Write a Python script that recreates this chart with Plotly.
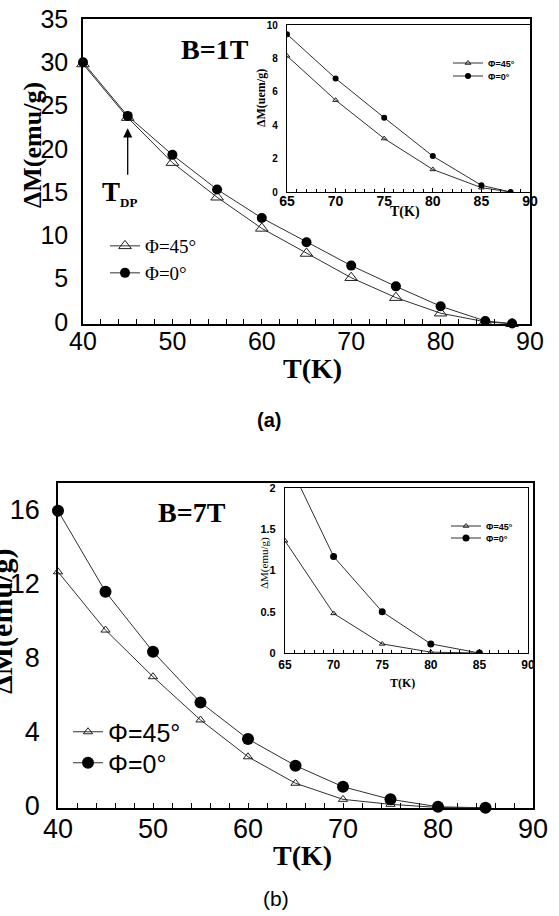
import plotly.graph_objects as go

W, H = 559, 916

# ---------------- data ----------------
# panel (a) main, B = 1 T
T_a = [40, 45, 50, 55, 60, 65, 70, 75, 80, 85, 88]
dM_a_phi45 = [29.8, 23.6, 18.4, 14.4, 10.8, 7.9, 5.1, 2.8, 1.0, 0.0, -0.22]
dM_a_phi0 = [30.0, 23.8, 19.3, 15.3, 12.0, 9.2, 6.5, 4.1, 1.8, 0.1, -0.2]
# panel (a) inset
T_a_in = [65, 70, 75, 80, 85, 88]
dM_a_in_phi45 = [8.15, 5.5, 3.2, 1.35, 0.26, 0.0]
dM_a_in_phi0 = [9.45, 6.8, 4.45, 2.15, 0.4, 0.0]
# panel (b) main, B = 7 T
T_b = [40, 45, 50, 55, 60, 65, 70, 75, 80, 85]
dM_b_phi45 = [12.66, 9.51, 6.99, 4.65, 2.66, 1.23, 0.36, 0.09, -0.08, -0.1]
dM_b_phi0 = [15.96, 11.58, 8.34, 5.6, 3.62, 2.18, 1.04, 0.36, -0.04, -0.1]
# panel (b) inset
T_b_in = [65, 70, 75, 80, 85]
dM_b_in_phi45 = [1.36, 0.48, 0.11, 0.01, 0.0]
dM_b_in_phi0 = [2.4, 1.17, 0.50, 0.11, 0.0]

T_DP = 45
T_DP_dM = 22.36

name45 = "Φ=45°"
name0 = "Φ=0°"

SERIF = "Liberation Serif"
SANS = "Liberation Sans"
LC = "#303030"


def px(x):
    return x / W


def py(y):
    return 1 - y / H


fig = go.Figure()


def add_pair(x, y45, y0, xa, ya, leg45, leg0, s45, s0, lw=1.0, clip=True):
    fig.add_trace(go.Scatter(x=x, y=y45, name=name45, mode="lines+markers",
                             xaxis=xa, yaxis=ya, legend=leg45, cliponaxis=clip,
                             showlegend=True,
                             line=dict(color=LC, width=lw),
                             marker=dict(symbol="triangle-up-open", size=s45,
                                         color="#202020", line=dict(width=1, color="#202020"))))
    fig.add_trace(go.Scatter(x=x, y=y0, name=name0, mode="lines+markers",
                             xaxis=xa, yaxis=ya, legend=leg0, cliponaxis=clip,
                             showlegend=True,
                             line=dict(color=LC, width=lw),
                             marker=dict(symbol="circle", size=s0, color="black")))


add_pair(T_a, dM_a_phi45, dM_a_phi0, "x", "y", "legend", "legend2", 11, 10, clip=False)
add_pair(T_a_in, dM_a_in_phi45, dM_a_in_phi0, "x2", "y2", "legend3", "legend4", 5, 6)
add_pair(T_b, dM_b_phi45, dM_b_phi0, "x3", "y3", "legend5", "legend6", 8, 12, clip=False)
add_pair(T_b_in, dM_b_in_phi45, dM_b_in_phi0, "x4", "y4", "legend7", "legend8", 5, 7)

ax_common = dict(showgrid=False, zeroline=False, showline=True, linecolor="black",
                 mirror=True, tickcolor="black", ticklen=5, tickwidth=1, automargin=False)


def leg(x, y, size, family, bold=False):
    # x = left of legend box, y = vertical centre of the single item (pixels)
    off = {19: 17, 25: 23, 9: 14.5}[size]
    return dict(x=px(x), y=py(y - off), xanchor="left", yanchor="top",
                bgcolor="rgba(0,0,0,0)", visible=True,
                font=dict(family=family, size=size, color="black",
                          weight="bold" if bold else "normal"))


fig.update_layout(
    width=W, height=H, autosize=False, showlegend=True,
    margin=dict(l=0, r=0, t=0, b=0, pad=0, autoexpand=False),
    paper_bgcolor="white", plot_bgcolor="rgba(0,0,0,0)",
    # (a) main
    xaxis=dict(ax_common, domain=[px(83), px(530)], range=[40, 90], anchor="y",
               tick0=40, dtick=10, ticks="inside", linewidth=1.5,
               minor=dict(dtick=2, ticks="inside", ticklen=5, tickcolor="black"),
               tickfont=dict(family=SANS, size=25, color="black"), ticklabelstandoff=-6),
    yaxis=dict(ax_common, domain=[py(324), py(19)], range=[-0.25, 35], anchor="x",
               dtick=5, ticks="", linewidth=1.5,
               tickfont=dict(family=SANS, size=25, color="black"), ticklabelstandoff=8),
    # (a) inset
    xaxis2=dict(ax_common, domain=[px(287), px(530)], range=[65, 90], anchor="y2",
                dtick=5, ticks="inside", ticklen=4, linewidth=1.2,
                minor=dict(dtick=1, ticks="inside", ticklen=3, tickcolor="black"),
                tickfont=dict(family=SANS, size=14, color="black", weight="bold"),
                ticklabelstandoff=-4),
    yaxis2=dict(ax_common, domain=[py(192), py(25)], range=[0, 10], anchor="x2",
                dtick=2, ticks="", linewidth=1.2,
                tickfont=dict(family=SANS, size=10, color="black", weight="bold"),
                ticklabelstandoff=6),
    # (b) main
    xaxis3=dict(ax_common, domain=[px(58), px(533)], range=[40, 90], anchor="y3",
                tick0=40, dtick=10, ticks="inside", linewidth=1.5,
                minor=dict(dtick=2, ticks="inside", ticklen=5, tickcolor="black"),
                tickfont=dict(family=SANS, size=27, color="black"), ticklabelstandoff=-4),
    yaxis3=dict(ax_common, domain=[py(808), py(483)], range=[-0.108, 17.46], anchor="x3",
                dtick=4, ticks="", linewidth=1.5,
                tickfont=dict(family=SANS, size=27, color="black"), ticklabelstandoff=11),
    # (b) inset
    xaxis4=dict(ax_common, domain=[px(285), px(528)], range=[65, 90], anchor="y4",
                dtick=5, ticks="inside", ticklen=4, linewidth=1.2,
                minor=dict(dtick=1, ticks="inside", ticklen=3, tickcolor="black"),
                tickfont=dict(family=SANS, size=12, color="black", weight="bold"),
                ticklabelstandoff=0),
    yaxis4=dict(ax_common, domain=[py(653), py(488)], range=[0, 2], anchor="x4",
                tickvals=[0, 0.5, 1, 1.5, 2], ticktext=["0", "0.5", "1", "1.5", "2"],
                ticks="", linewidth=1.2,
                tickfont=dict(family=SANS, size=11, color="black", weight="bold"),
                ticklabelstandoff=6),
    legend=leg(105, 244, 19, SERIF),
    legend2=leg(105, 271, 19, SERIF),
    legend3=leg(448, 63, 9, SANS, True),
    legend4=leg(448, 76, 9, SANS, True),
    legend5=leg(68, 732, 25, SANS),
    legend6=leg(68, 763, 25, SANS),
    legend7=leg(446, 526, 9, SANS, True),
    legend8=leg(446, 538, 9, SANS, True),
)

ann = []


def text(x, y, s, size, family=SERIF, bold=True, angle=0, xanchor="center"):
    ann.append(dict(x=px(x), y=py(y), xref="paper", yref="paper", text=s, showarrow=False,
                    xanchor=xanchor, yanchor="middle", textangle=angle,
                    font=dict(family=family, size=size, color="black",
                              weight="bold" if bold else "normal")))


# panel (a)
text(215, 50, "B=1T", 28)
text(312, 368, "T(K)", 28)
text(32, 145, "ΔM(emu/g)", 26, angle=-90)
text(269, 420, "(a)", 20, family=SANS)
text(405, 212, "T(K)", 14)
text(261, 98, "ΔM(uem/g)", 12, angle=-90)
text(100, 193, "T<sub><span style='font-size:13px'>DP</span></sub>", 27, xanchor="left")
ann.append(dict(x=T_DP, y=T_DP_dM, xref="x", yref="y", ax=0, ay=48, text="",
                showarrow=True, arrowhead=2, arrowsize=1.4, arrowwidth=1.3,
                arrowcolor="black", standoff=0))
# panel (b)
text(192, 512, "B=7T", 28)
text(302, 855, "T(K)", 28)
text(2, 622, "ΔM(emu/g)", 30, angle=-90)
text(276, 898, "(b)", 21, family=SANS, bold=False)
text(403, 683, "T(K)", 12)
text(264, 563, "ΔM(emu/g)", 11, bold=False, angle=-90)

fig.update_layout(annotations=ann)

fig.write_html("out.html")
